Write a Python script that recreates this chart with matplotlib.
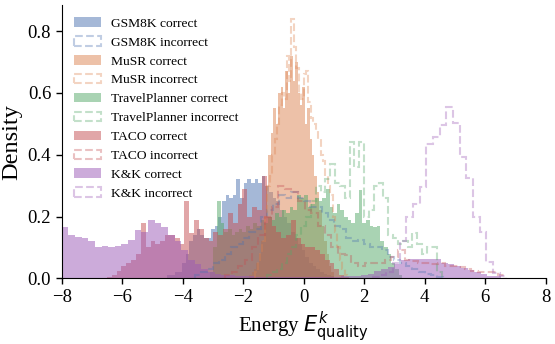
import numpy as np
import matplotlib
matplotlib.use("Agg")
import matplotlib.pyplot as plt

# ---------------- data ----------------
datasets = ["GSM8K", "MuSR", "TravelPlanner", "TACO", "K&K"]

# each histogram: first bin edge, bin width, bin heights (density)
gsm_correct_start, gsm_correct_width = -4.5, 0.12
gsm_correct = [0.01, 0.01, 0.02, 0.02, 0.05, 0.08, 0.12, 0.14, 0.158, 0.14,
               0.13, 0.132, 0.16, 0.17, 0.2, 0.25, 0.27, 0.26, 0.27, 0.32,
               0.26, 0.31, 0.32, 0.31, 0.32, 0.31, 0.33, 0.3, 0.28, 0.26,
               0.25, 0.22, 0.2, 0.18, 0.15, 0.13, 0.11, 0.09, 0.07, 0.05,
               0.04, 0.03, 0.02, 0.015, 0.01, 0.006]

gsm_incorrect_start, gsm_incorrect_width = -3.6, 0.2
gsm_incorrect = [0.01, 0.02, 0.03, 0.05, 0.06, 0.08, 0.1, 0.11, 0.13, 0.15,
                 0.16, 0.2, 0.22, 0.24, 0.27, 0.26, 0.28, 0.26, 0.25, 0.23,
                 0.23, 0.21, 0.19, 0.17, 0.16, 0.13, 0.12, 0.125, 0.11, 0.1,
                 0.1, 0.09, 0.07, 0.06, 0.05, 0.04, 0.03, 0.02, 0.015, 0.01,
                 0.005]

musr_correct_start, musr_correct_width = -1.8, 0.08
musr_correct = [0.01, 0.02, 0.03, 0.05, 0.08, 0.12, 0.2, 0.3, 0.4, 0.47,
                0.55, 0.5, 0.6, 0.62, 0.55, 0.67, 0.6, 0.72, 0.64, 0.7,
                0.6, 0.56, 0.62, 0.5, 0.55, 0.45, 0.4, 0.33, 0.28, 0.22,
                0.17, 0.12, 0.08, 0.04, 0.02]

musr_incorrect_start, musr_incorrect_width = -1.6, 0.08
musr_incorrect = [0.02, 0.05, 0.08, 0.12, 0.2, 0.3, 0.33, 0.4, 0.45, 0.5,
                  0.56, 0.6, 0.58, 0.72, 0.64, 0.84, 0.75, 0.68, 0.6, 0.58,
                  0.66, 0.67, 0.57, 0.52, 0.5, 0.48, 0.45, 0.4, 0.38, 0.33,
                  0.3, 0.27, 0.2, 0.15, 0.1, 0.06, 0.03, 0.01]

travel_correct_start, travel_correct_width = -3.1, 0.12
travel_correct = [0.02, 0.1, 0.25, 0.18, 0.15, 0.16, 0.14, 0.15, 0.16, 0.15,
                  0.17, 0.16, 0.18, 0.17, 0.19, 0.18, 0.2, 0.19, 0.21, 0.2,
                  0.22, 0.21, 0.23, 0.22, 0.27, 0.26, 0.27, 0.23, 0.24, 0.26,
                  0.25, 0.26, 0.29, 0.23, 0.21, 0.24, 0.22, 0.2, 0.19, 0.18,
                  0.21, 0.285, 0.18, 0.19, 0.17, 0.165, 0.17, 0.12, 0.1, 0.08,
                  0.05, 0.03, 0.01]

travel_incorrect_start, travel_incorrect_width = -1.2, 0.16
travel_incorrect = [0.01, 0.02, 0.03, 0.05, 0.08, 0.1, 0.14, 0.17, 0.2, 0.25,
                    0.3, 0.28, 0.32, 0.37, 0.31, 0.3, 0.26, 0.44, 0.36, 0.44,
                    0.2, 0.22, 0.3, 0.31, 0.26, 0.14, 0.13, 0.11, 0.12, 0.1,
                    0.145, 0.11, 0.08, 0.1, 0.1, 0.02]

taco_correct_start, taco_correct_width = -6.5, 0.16
taco_correct = [0.005, 0.01, 0.025, 0.04, 0.05, 0.06, 0.08, 0.18, 0.1, 0.12,
                0.11, 0.12, 0.14, 0.14, 0.13, 0.11, 0.25, 0.145, 0.19, 0.16,
                0.13, 0.12, 0.15, 0.14, 0.16, 0.21, 0.18, 0.24, 0.29, 0.2,
                0.23, 0.22, 0.33, 0.2, 0.17, 0.15, 0.13, 0.14, 0.19, 0.13,
                0.11, 0.1, 0.1, 0.09, 0.08, 0.06, 0.05, 0.03, 0.01, 0.005]

taco_incorrect_start, taco_incorrect_width = -2.6, 0.22
taco_incorrect = [0.01, 0.02, 0.04, 0.06, 0.1, 0.14, 0.2, 0.23, 0.3, 0.29,
                  0.28, 0.25, 0.22, 0.21, 0.17, 0.14, 0.1, 0.08, 0.075, 0.05,
                  0.04, 0.05, 0.05, 0.05, 0.06, 0.07, 0.09, 0.06, 0.055, 0.05,
                  0.05, 0.045, 0.05, 0.04, 0.04, 0.035, 0.03, 0.025, 0.02, 0.02,
                  0.02, 0.01]

kk_correct_start, kk_correct_width = -8.0, 0.22
kk_correct = [0.165, 0.14, 0.135, 0.13, 0.12, 0.10, 0.105, 0.10, 0.105, 0.11,
              0.125, 0.155, 0.15, 0.19, 0.18, 0.165, 0.14, 0.12, 0.09, 0.06,
              0.045, 0.03, 0.02, 0.015, 0.01, 0.01, 0.008, 0.006, 0.006, 0.005,
              0.005, 0.004, 0.004, 0.004, 0.003, 0.003, 0.003, 0.003, 0.003, 0.004,
              0.004, 0.005, 0.006, 0.007, 0.008, 0.01, 0.015, 0.025, 0.03, 0.037,
              0.045, 0.06, 0.062, 0.064, 0.063, 0.064, 0.062, 0.05, 0.046, 0.04,
              0.034, 0.026, 0.02, 0.014, 0.009, 0.006]

kk_incorrect_start, kk_incorrect_width = 2.30, 0.22
kk_incorrect = [0.005, 0.01, 0.02, 0.05, 0.12, 0.199, 0.242, 0.296, 0.436, 0.458,
                0.496, 0.555, 0.504, 0.393, 0.326, 0.199, 0.15, 0.053, 0.017, 0.007]

x_ticks = [-8, -6, -4, -2, 0, 2, 4, 6, 8]
y_ticks = [0.0, 0.2, 0.4, 0.6, 0.8]

# ---------------- style ----------------
colors = ["#4C72B0", "#DD8452", "#55A868", "#C44E52", "#9B59B6"]
plt.rcParams["font.family"] = ["Liberation Serif", "DejaVu Serif"]
plt.rcParams["mathtext.fontset"] = "dejavusans"

series = [
    (gsm_correct_start, gsm_correct_width, gsm_correct,
     gsm_incorrect_start, gsm_incorrect_width, gsm_incorrect),
    (musr_correct_start, musr_correct_width, musr_correct,
     musr_incorrect_start, musr_incorrect_width, musr_incorrect),
    (travel_correct_start, travel_correct_width, travel_correct,
     travel_incorrect_start, travel_incorrect_width, travel_incorrect),
    (taco_correct_start, taco_correct_width, taco_correct,
     taco_incorrect_start, taco_incorrect_width, taco_incorrect),
    (kk_correct_start, kk_correct_width, kk_correct,
     kk_incorrect_start, kk_incorrect_width, kk_incorrect),
]

fig = plt.figure(figsize=(5.55, 3.44), dpi=100)
ax = fig.add_axes([0.111, 0.191, 0.872, 0.794])


def edges_of(start, width, vals):
    return start + width * np.arange(len(vals) + 1)


for name, col, (cs, cw, cv, ins, iw, iv) in zip(datasets, colors, series):
    ce = edges_of(cs, cw, cv)
    ax.hist(ce[:-1], bins=ce, weights=cv, color=col, alpha=0.5,
            label=f"{name} correct")
    ie = edges_of(ins, iw, iv)
    ax.hist(ie[:-1], bins=ie, weights=iv, histtype="step", color=col,
            alpha=0.35, linestyle="--", linewidth=1.5,
            label=f"{name} incorrect")

ax.set_xlim(-8, 8)
ax.set_ylim(0, 0.884)
ax.set_xticks(x_ticks)
ax.set_yticks(y_ticks)
ax.set_yticklabels([f"{t:.1f}" for t in y_ticks])
ax.tick_params(labelsize=13.5, length=4.5, width=1, pad=3)
ax.spines["top"].set_visible(False)
ax.spines["right"].set_visible(False)
ax.set_xlabel(r"Energy $E^k_{\mathrm{quality}}$", fontsize=15, labelpad=3)
ax.set_ylabel("Density", fontsize=17.5, labelpad=4)
ax.legend(loc="upper left", frameon=False, fontsize=9.7, labelspacing=0.48)

fig.savefig("out.png", dpi=100)
